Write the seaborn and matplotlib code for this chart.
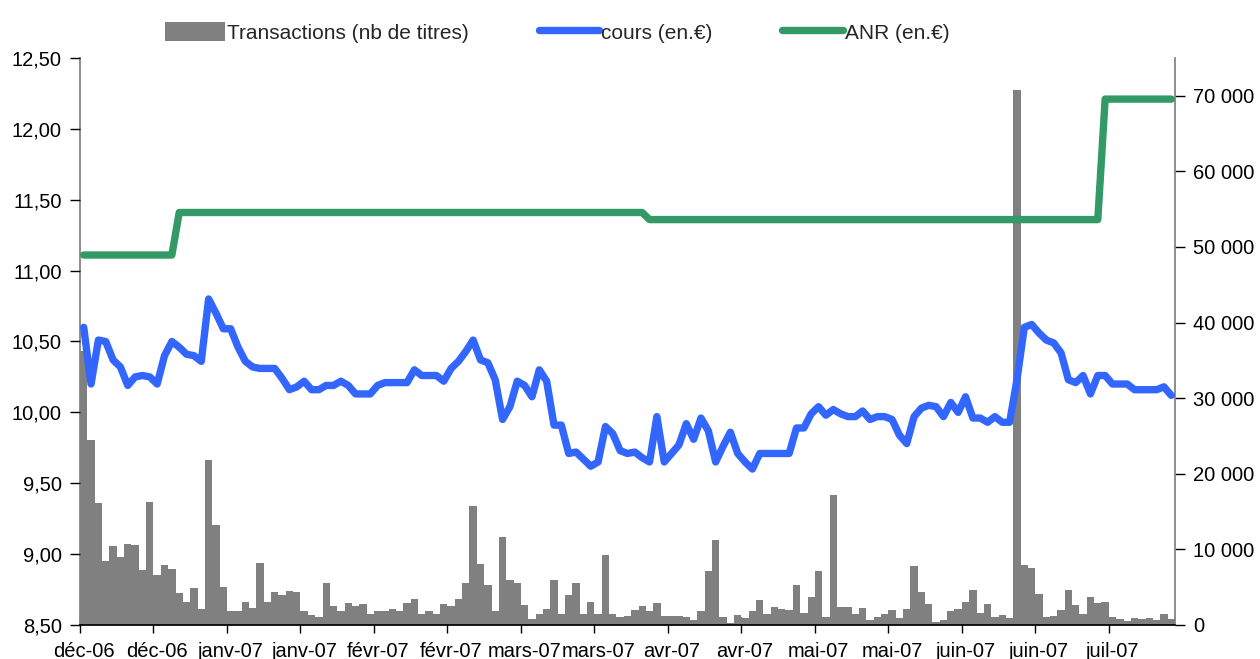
# =========================
# 1. IMPORTS
# =========================
import matplotlib
matplotlib.use('Agg')

import matplotlib.pyplot as plt
from matplotlib.ticker import FuncFormatter, MultipleLocator
import pandas as pd
import seaborn as sns

# =========================
# 2. DATA
# =========================
tick_labels = ["déc-06", "déc-06", "janv-07", "janv-07", "févr-07", "févr-07",
               "mars-07", "mars-07", "avr-07", "avr-07", "mai-07", "mai-07",
               "juin-07", "juin-07", "juil-07"]

# share price (left axis)
cours = [
    10.60, 10.20, 10.51, 10.50, 10.37, 10.32, 10.19, 10.25, 10.26, 10.25,
    10.20, 10.40, 10.50, 10.46, 10.41, 10.40, 10.36, 10.80, 10.70, 10.59,
    10.59, 10.46, 10.36, 10.32, 10.31, 10.31, 10.31, 10.24, 10.16, 10.18,
    10.22, 10.16, 10.16, 10.19, 10.19, 10.22, 10.19, 10.13, 10.13, 10.13,
    10.19, 10.21, 10.21, 10.21, 10.21, 10.30, 10.26, 10.26, 10.26, 10.22,
    10.31, 10.36, 10.43, 10.51, 10.37, 10.35, 10.23, 9.95, 10.04, 10.22,
    10.19, 10.11, 10.30, 10.22, 9.91, 9.91, 9.71, 9.72, 9.67, 9.62,
    9.65, 9.90, 9.85, 9.73, 9.71, 9.72, 9.68, 9.65, 9.97, 9.65,
    9.71, 9.77, 9.92, 9.81, 9.96, 9.87, 9.65, 9.76, 9.86, 9.71,
    9.65, 9.60, 9.71, 9.71, 9.71, 9.71, 9.71, 9.89, 9.89, 9.99,
    10.04, 9.98, 10.02, 9.99, 9.97, 9.97, 10.01, 9.95, 9.97, 9.97,
    9.95, 9.84, 9.78, 9.97, 10.03, 10.05, 10.04, 9.97, 10.07, 10.00,
    10.11, 9.96, 9.96, 9.93, 9.97, 9.93, 9.93, 10.23, 10.60, 10.62,
    10.56, 10.51, 10.49, 10.42, 10.23, 10.21, 10.26, 10.13, 10.26, 10.26,
    10.20, 10.20, 10.20, 10.16, 10.16, 10.16, 10.16, 10.18, 10.12,
]

# net asset value (left axis)
anr = [
    11.11, 11.11, 11.11, 11.11, 11.11, 11.11, 11.11, 11.11, 11.11, 11.11,
    11.11, 11.11, 11.11, 11.41, 11.41, 11.41, 11.41, 11.41, 11.41, 11.41,
    11.41, 11.41, 11.41, 11.41, 11.41, 11.41, 11.41, 11.41, 11.41, 11.41,
    11.41, 11.41, 11.41, 11.41, 11.41, 11.41, 11.41, 11.41, 11.41, 11.41,
    11.41, 11.41, 11.41, 11.41, 11.41, 11.41, 11.41, 11.41, 11.41, 11.41,
    11.41, 11.41, 11.41, 11.41, 11.41, 11.41, 11.41, 11.41, 11.41, 11.41,
    11.41, 11.41, 11.41, 11.41, 11.41, 11.41, 11.41, 11.41, 11.41, 11.41,
    11.41, 11.41, 11.41, 11.41, 11.41, 11.41, 11.41, 11.36, 11.36, 11.36,
    11.36, 11.36, 11.36, 11.36, 11.36, 11.36, 11.36, 11.36, 11.36, 11.36,
    11.36, 11.36, 11.36, 11.36, 11.36, 11.36, 11.36, 11.36, 11.36, 11.36,
    11.36, 11.36, 11.36, 11.36, 11.36, 11.36, 11.36, 11.36, 11.36, 11.36,
    11.36, 11.36, 11.36, 11.36, 11.36, 11.36, 11.36, 11.36, 11.36, 11.36,
    11.36, 11.36, 11.36, 11.36, 11.36, 11.36, 11.36, 11.36, 11.36, 11.36,
    11.36, 11.36, 11.36, 11.36, 11.36, 11.36, 11.36, 11.36, 11.36, 12.21,
    12.21, 12.21, 12.21, 12.21, 12.21, 12.21, 12.21, 12.21, 12.21,
]

# traded volume (right axis)
transactions = [
    36200, 24500, 16200, 8400, 10400, 9000, 10700, 10600, 7300, 16300,
    6600, 7900, 7400, 4200, 3100, 4900, 2100, 21800, 13200, 5000,
    1800, 1800, 3100, 2200, 8200, 3000, 4400, 4000, 4500, 4300,
    1800, 1300, 1000, 5600, 2500, 1900, 2900, 2500, 2800, 1500,
    1900, 1800, 2100, 1800, 2900, 3400, 1500, 1900, 1500, 2800,
    2500, 3500, 5500, 15700, 8100, 5300, 1800, 11700, 5900, 5500,
    2600, 750, 1500, 2100, 6000, 1500, 4000, 5500, 1500, 3000,
    1500, 9300, 1500, 1100, 1200, 2000, 2500, 1900, 2900, 1200,
    1200, 1200, 1000, 660, 1800, 7100, 11200, 1000, 200, 1300,
    900, 1800, 3300, 1500, 2400, 2100, 2000, 5300, 1600, 3700,
    7100, 1100, 17200, 2400, 2400, 1500, 2200, 660, 1000, 1500,
    2000, 900, 2100, 7800, 4300, 2800, 440, 660, 1800, 2100,
    3000, 4600, 1600, 2800, 1100, 1300, 900, 70800, 7900, 7500,
    4100, 1100, 1200, 2000, 4600, 2600, 1500, 3700, 2900, 3100,
    1100, 750, 500, 900, 750, 900, 660, 1400, 750,
]

df = pd.DataFrame({
    "jour": range(len(cours)),
    "cours": cours,
    "anr": anr,
    "transactions": transactions,
})

# =========================
# 3. STYLE
# =========================
sns.set_theme(style="white")
plt.rcParams['font.family'] = ['Liberation Sans', 'DejaVu Sans']

BAR = "#808080"
BLUE = "#3366FF"
GREEN = "#339966"

# =========================
# 4. PLOT
# =========================
fig = plt.figure(figsize=(12.6, 6.59), dpi=100)
ax = fig.add_axes([0.0635, 0.0516, 0.8690, 0.8604])

# bars on the base axes (right scale), lines on the twin (left scale)
sns.barplot(data=df, x="jour", y="transactions", color=BAR, saturation=1,
            width=1.0, linewidth=0, errorbar=None, ax=ax)

ax2 = ax.twinx()
sns.lineplot(data=df, x="jour", y="cours", color=BLUE, linewidth=5.3,
             solid_joinstyle="round", solid_capstyle="round", ax=ax2)
sns.lineplot(data=df, x="jour", y="anr", color=GREEN, linewidth=5.3,
             solid_joinstyle="round", solid_capstyle="round", ax=ax2)

n = len(cours)
ax.set_xlim(-0.5, n - 0.5)
ax.set_ylim(0, 75000)
ax2.set_ylim(8.5, 12.5)

# labels sit on every 10th day, tick marks on the category boundaries
label_pos = list(range(0, n, 10))
ax.set_xticks(label_pos)
ax.set_xticklabels(tick_labels)
ax.set_xticks([p - 0.5 for p in label_pos], minor=True)

ax.yaxis.set_major_locator(MultipleLocator(10000))
ax2.yaxis.set_major_locator(MultipleLocator(0.5))

ax.yaxis.set_major_formatter(FuncFormatter(lambda v, p: f"{int(v):,}".replace(",", " ")))
ax2.yaxis.set_major_formatter(FuncFormatter(lambda v, p: f"{v:.2f}".replace(".", ",")))

for a in (ax, ax2):
    a.set_xlabel("")
    a.set_ylabel("")

ax.tick_params(axis="x", which="major", length=0, labelcolor="black",
               labelsize=14.5, pad=12, bottom=True)
ax.tick_params(axis="x", which="minor", direction="inout", length=12, width=1,
               color="black", bottom=True)
ax.tick_params(axis="y", direction="out", length=7, width=1, color="black",
               labelcolor="black", labelsize=14.5, pad=6,
               left=False, right=True, labelleft=False, labelright=True)
ax2.tick_params(axis="y", direction="out", length=7, width=1, color="black",
                labelcolor="black", labelsize=14.5, pad=6,
                left=True, right=False, labelleft=True, labelright=False)

ax.spines["top"].set_visible(False)
ax.spines["left"].set_color("#808080")
ax.spines["right"].set_color("#808080")
ax.spines["bottom"].set_color("black")
for s in ax2.spines.values():
    s.set_visible(False)

# legend above the plot
handles = [ax.containers[0], ax2.lines[0], ax2.lines[1]]
labels = ["Transactions (nb de titres)", "cours (en.€)", "ANR (en.€)"]
fig.legend(handles, labels, loc="center", bbox_to_anchor=(0.442, 0.951),
           ncol=3, frameon=False, fontsize=15, handlelength=2.9,
           handleheight=1.0, handletextpad=0.1, columnspacing=3.35,
           borderaxespad=0)

fig.savefig("out.png", dpi=100)
plt.close()
